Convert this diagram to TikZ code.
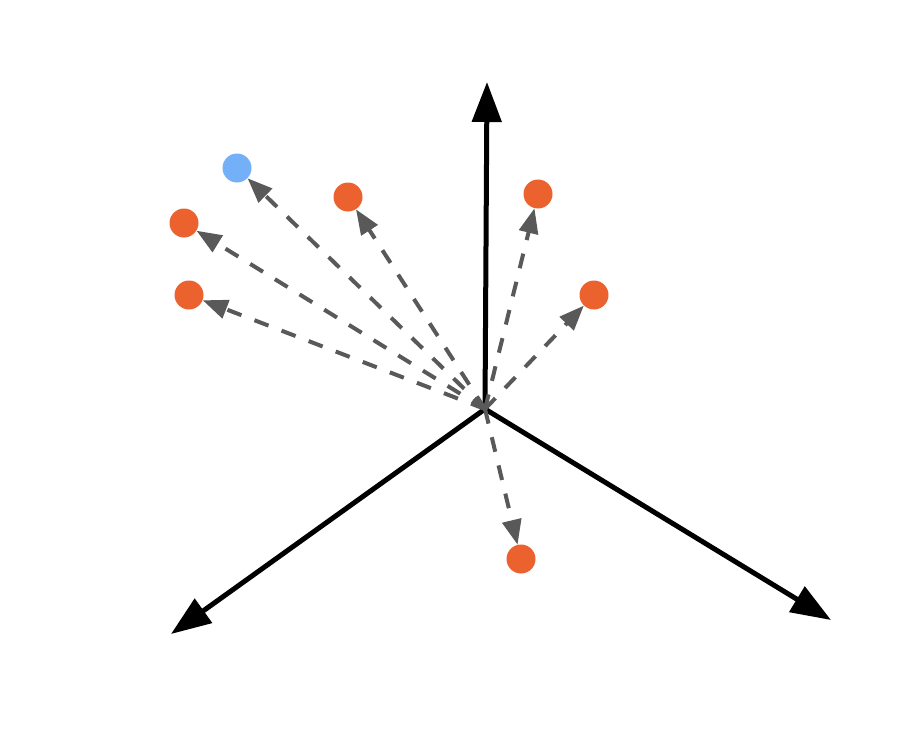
\documentclass[tikz,border=0pt]{standalone}
\usetikzlibrary{arrows.meta}
\definecolor{dotorange}{HTML}{EC622E}
\definecolor{dotblue}{HTML}{74B0F8}
\definecolor{arrgray}{HTML}{595959}
\begin{document}
\begin{tikzpicture}[x=1pt,y=-1pt,
  dot/.style={circle,inner sep=0pt,minimum size=29pt,fill=#1,draw=none},
  axis/.style={line width=5pt,-{Triangle[length=40pt,width=29pt]}},
  vec/.style={arrgray,line width=4pt,dash pattern=on 15pt off 14pt,-{Triangle[length=25pt,width=19pt]}}]
\useasboundingbox (0,0) rectangle (924,744);
\coordinate (o) at (485,409);
\coordinate (xup) at (487,82);
\coordinate (xleft) at (171,634);
\coordinate (xright) at (831,620);
\node[dot=dotblue] (b1) at (237,168) {};
\node[dot=dotorange] (r1) at (348,197) {};
\node[dot=dotorange] (r2) at (184,223) {};
\node[dot=dotorange] (r3) at (189,295) {};
\node[dot=dotorange] (r4) at (538,194) {};
\node[dot=dotorange] (r5) at (594,295) {};
\node[dot=dotorange] (r6) at (521,559) {};
\draw[axis] (o) -- (xup);
\draw[axis] (o) -- (xleft);
\draw[axis] (o) -- (xright);
\foreach \n in {b1,r1,r2,r3,r4,r5,r6}
  \draw[vec] (o) -- (\n);
\end{tikzpicture}
\end{document}
